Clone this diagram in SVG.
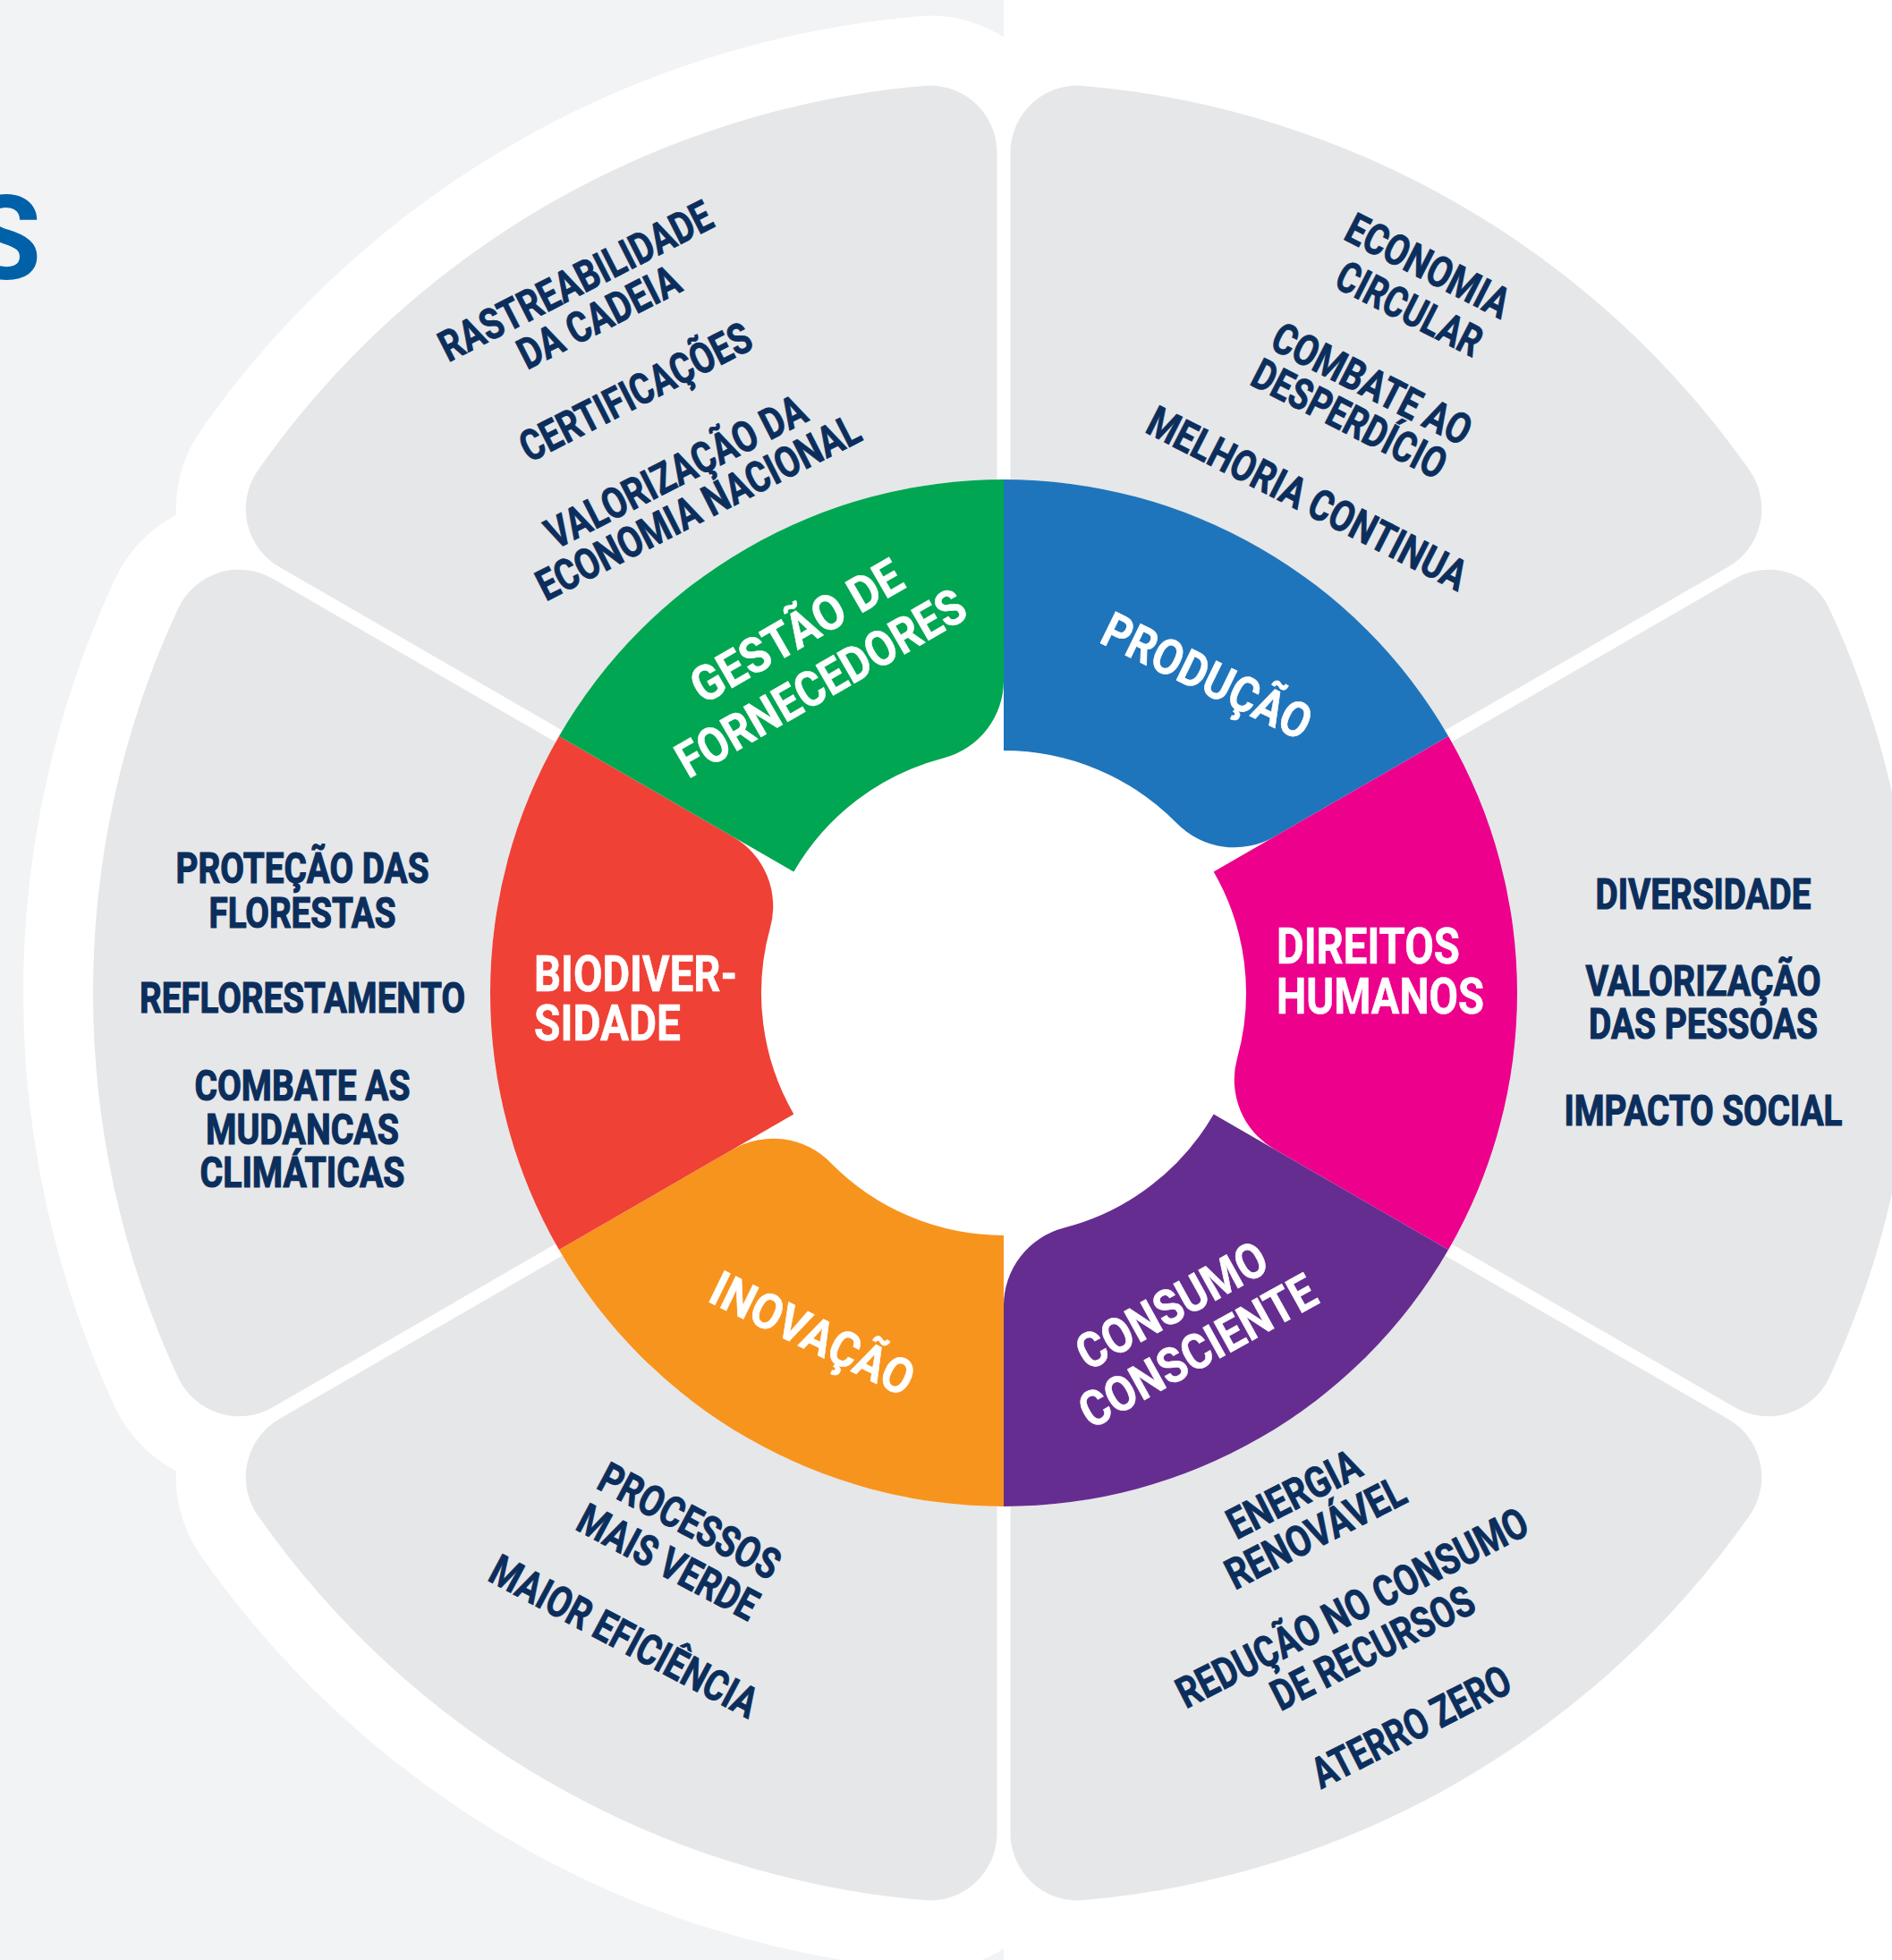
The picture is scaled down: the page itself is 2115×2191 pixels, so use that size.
<svg xmlns="http://www.w3.org/2000/svg" width="2115" height="2191" viewBox="0 0 2115 2191">
<style>
.petal{fill:#e6e7e9}
.halo{fill:#fff;stroke:#fff;stroke-width:156;stroke-linejoin:round}
.t{font-family:Roboto,"Liberation Sans",sans-serif;font-weight:700;fill:#0b2e5c;stroke:#0b2e5c;stroke-width:0.8px;font-size:48px;text-anchor:middle}
.h{font-size:49px;stroke-width:1.2px}
.w{font-family:Roboto,"Liberation Sans",sans-serif;font-weight:700;fill:#fff;stroke:#fff;stroke-width:0.6px;font-size:55px}
.m{text-anchor:middle}
</style>
<defs>
<path id="petal" d="M1129.5,660 L1129.5,170.6 A75,75 0 0 1 1211.1,95.9 A1018,1018 0 0 1 1955.7,525.8 A75,75 0 0 1 1931.8,633.8 L1507.95,878.5 Z"/>
<path id="seg" d="M1122,536 A574,574 0 0 1 1619.1,823 L1424.76,935.2 A90,90 0 0 1 1315.49,920.25 A271,271 0 0 0 1122,839 Z"/>
</defs>
<rect x="0" y="0" width="1122" height="2191" fill="#f2f3f5"/>
<g id="halo">
<use href="#petal" class="halo"/>
<use href="#petal" class="halo" transform="rotate(60 1122 1110)"/>
<use href="#petal" class="halo" transform="rotate(120 1122 1110)"/>
<use href="#petal" class="halo" transform="rotate(180 1122 1110)"/>
<use href="#petal" class="halo" transform="rotate(240 1122 1110)"/>
<use href="#petal" class="halo" transform="rotate(300 1122 1110)"/>
</g>
<text x="46" y="312" font-family="Roboto, 'Liberation Sans', sans-serif" font-weight="700" font-size="132" fill="#0061a9" text-anchor="end">S</text>
<g id="petals">
<use href="#petal" class="petal"/>
<use href="#petal" class="petal" transform="rotate(60 1122 1110)"/>
<use href="#petal" class="petal" transform="rotate(120 1122 1110)"/>
<use href="#petal" class="petal" transform="rotate(180 1122 1110)"/>
<use href="#petal" class="petal" transform="rotate(240 1122 1110)"/>
<use href="#petal" class="petal" transform="rotate(300 1122 1110)"/>
</g>
<circle cx="1122" cy="1110" r="574" fill="#fff"/>
<g id="producao">
<use href="#seg" fill="#1f75bb"/>
<text class="w m" transform="translate(1341,773) rotate(26)" textLength="253" lengthAdjust="spacingAndGlyphs">PRODUÇÃO</text>
</g>
<g id="direitos-humanos">
<use href="#seg" fill="#ec008c" transform="rotate(60 1122 1110)"/>
<text class="w" x="1427" y="1077" textLength="205" lengthAdjust="spacingAndGlyphs">DIREITOS</text>
<text class="w" x="1427" y="1133" textLength="232" lengthAdjust="spacingAndGlyphs">HUMANOS</text>
</g>
<g id="consumo-consciente">
<use href="#seg" fill="#662d91" transform="rotate(120 1122 1110)"/>
<text class="w m" transform="translate(1319,1476) rotate(-29)" textLength="235" lengthAdjust="spacingAndGlyphs">CONSUMO</text>
<text class="w m" transform="translate(1348,1527) rotate(-29)" textLength="294" lengthAdjust="spacingAndGlyphs">CONSCIENTE</text>
</g>
<g id="inovacao">
<use href="#seg" fill="#f7941e" transform="rotate(180 1122 1110)"/>
<text class="w m" transform="translate(900,1508) rotate(26)" textLength="246" lengthAdjust="spacingAndGlyphs">INOVAÇÃO</text>
</g>
<g id="biodiversidade">
<use href="#seg" fill="#ef4136" transform="rotate(240 1122 1110)"/>
<text class="w" x="597" y="1108" textLength="227" lengthAdjust="spacingAndGlyphs">BIODIVER-</text>
<text class="w" x="597" y="1163" textLength="164" lengthAdjust="spacingAndGlyphs">SIDADE</text>
</g>
<g id="gestao-fornecedores">
<use href="#seg" fill="#00a651" transform="rotate(300 1122 1110)"/>
<text class="w m" transform="translate(900,722) rotate(-30)" textLength="264" lengthAdjust="spacingAndGlyphs">GESTÃO DE</text>
<text class="w m" transform="translate(927,780) rotate(-30)" textLength="364" lengthAdjust="spacingAndGlyphs">FORNECEDORES</text>
</g>
<g id="itens-gestao">
<text class="t" transform="translate(651,329) rotate(-27)" textLength="336" lengthAdjust="spacingAndGlyphs">RASTREABILIDADE</text>
<text class="t" transform="translate(677,369) rotate(-27)" textLength="197" lengthAdjust="spacingAndGlyphs">DA CADEIA</text>
<text class="t" transform="translate(718,453) rotate(-27)" textLength="284" lengthAdjust="spacingAndGlyphs">CERTIFICAÇÕES</text>
<text class="t" transform="translate(763,542) rotate(-27)" textLength="320" lengthAdjust="spacingAndGlyphs">VALORIZAÇÃO DA</text>
<text class="t" transform="translate(788,582) rotate(-27)" textLength="399" lengthAdjust="spacingAndGlyphs">ECONOMIA NACIONAL</text>
</g>
<g id="itens-producao">
<text class="t" transform="translate(1589,312) rotate(27)" textLength="199" lengthAdjust="spacingAndGlyphs">ECONOMIA</text>
<text class="t" transform="translate(1568,360) rotate(27)" textLength="176" lengthAdjust="spacingAndGlyphs">CIRCULAR</text>
<text class="t" transform="translate(1526,444) rotate(27)" textLength="243" lengthAdjust="spacingAndGlyphs">COMBATE AO</text>
<text class="t" transform="translate(1501,483) rotate(27)" textLength="237" lengthAdjust="spacingAndGlyphs">DESPERDÍCIO</text>
<text class="t" transform="translate(1454,572) rotate(27)" textLength="394" lengthAdjust="spacingAndGlyphs">MELHORIA CONTINUA</text>
</g>
<g id="itens-direitos">
<text class="t h" x="1904" y="1016" textLength="241" lengthAdjust="spacingAndGlyphs">DIVERSIDADE</text>
<text class="t h" x="1904" y="1113" textLength="263" lengthAdjust="spacingAndGlyphs">VALORIZAÇÃO</text>
<text class="t h" x="1904" y="1161" textLength="256" lengthAdjust="spacingAndGlyphs">DAS PESSOAS</text>
<text class="t h" x="1904" y="1258" textLength="311" lengthAdjust="spacingAndGlyphs">IMPACTO SOCIAL</text>
</g>
<g id="itens-consumo">
<text class="t" transform="translate(1454,1685) rotate(-27)" textLength="161" lengthAdjust="spacingAndGlyphs">ENERGIA</text>
<text class="t" transform="translate(1478,1728) rotate(-27)" textLength="219" lengthAdjust="spacingAndGlyphs">RENOVÁVEL</text>
<text class="t" transform="translate(1519,1812) rotate(-27)" textLength="434" lengthAdjust="spacingAndGlyphs">REDUÇÃO NO CONSUMO</text>
<text class="t" transform="translate(1542,1857) rotate(-27)" textLength="248" lengthAdjust="spacingAndGlyphs">DE RECURSOS</text>
<text class="t" transform="translate(1585,1945) rotate(-27)" textLength="243" lengthAdjust="spacingAndGlyphs">ATERRO ZERO</text>
</g>
<g id="itens-inovacao">
<text class="t" transform="translate(763,1715) rotate(28)" textLength="222" lengthAdjust="spacingAndGlyphs">PROCESSOS</text>
<text class="t" transform="translate(739,1761) rotate(28)" textLength="221" lengthAdjust="spacingAndGlyphs">MAIS VERDE</text>
<text class="t" transform="translate(690,1844) rotate(28)" textLength="332" lengthAdjust="spacingAndGlyphs">MAIOR EFICIÊNCIA</text>
</g>
<g id="itens-biodiversidade">
<text class="t h" x="338" y="987" textLength="283" lengthAdjust="spacingAndGlyphs">PROTEÇÃO DAS</text>
<text class="t h" x="338" y="1037" textLength="209" lengthAdjust="spacingAndGlyphs">FLORESTAS</text>
<text class="t h" x="338" y="1132" textLength="364" lengthAdjust="spacingAndGlyphs">REFLORESTAMENTO</text>
<text class="t h" x="338" y="1230" textLength="241" lengthAdjust="spacingAndGlyphs">COMBATE AS</text>
<text class="t h" x="338" y="1279" textLength="216" lengthAdjust="spacingAndGlyphs">MUDANCAS</text>
<text class="t h" x="338" y="1327" textLength="229" lengthAdjust="spacingAndGlyphs">CLIMÁTICAS</text>
</g>
</svg>
